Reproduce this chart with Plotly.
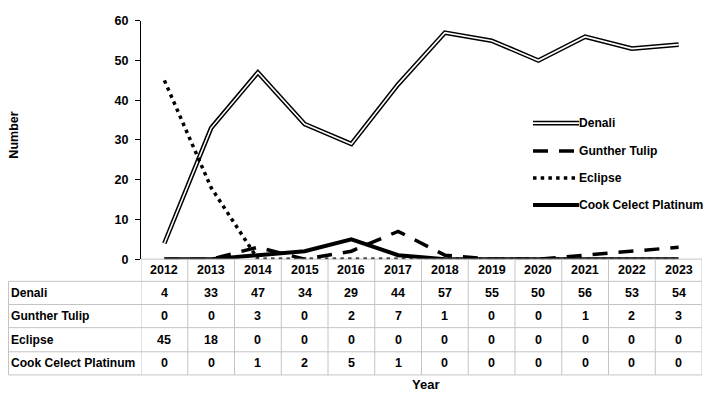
import plotly.graph_objects as go

years = ["2012", "2013", "2014", "2015", "2016", "2017", "2018", "2019", "2020", "2021", "2022", "2023"]
series_names = ["Denali", "Gunther Tulip", "Eclipse", "Cook Celect Platinum"]
denali = [4, 33, 47, 34, 29, 44, 57, 55, 50, 56, 53, 54]
gunther_tulip = [0, 0, 3, 0, 2, 7, 1, 0, 0, 1, 2, 3]
eclipse = [45, 18, 0, 0, 0, 0, 0, 0, 0, 0, 0, 0]
cook_celect_platinum = [0, 0, 1, 2, 5, 1, 0, 0, 0, 0, 0, 0]
y_ticks = [0, 10, 20, 30, 40, 50, 60]

# The page body has an 8px margin, so the figure starts 8px right and 8px down.
OFF = 8
W, H = 712, 400
FONT = "Liberation Sans"
FS = 12.5
FS_LABEL = 12.1
GRID = "#c4c4c4"

def px(x):
    return (x - OFF) / W

def py(y):
    return (H - (y - OFF)) / H

fig = go.Figure()

# Denali: double line (black outer, white inner)
fig.add_trace(go.Scatter(x=years, y=denali, mode="lines", line=dict(color="black", width=4.6),
                         showlegend=False, hoverinfo="skip"))
fig.add_trace(go.Scatter(x=years, y=denali, mode="lines", line=dict(color="white", width=1.6),
                         showlegend=False, name="Denali"))
fig.add_trace(go.Scatter(x=years, y=gunther_tulip, mode="lines",
                         line=dict(color="black", width=3.5, dash="15px,11px"),
                         showlegend=False, name="Gunther Tulip"))
fig.add_trace(go.Scatter(x=years, y=eclipse, mode="lines",
                         line=dict(color="black", width=3.5, dash="3.5px,4.2px"),
                         showlegend=False, name="Eclipse"))
fig.add_trace(go.Scatter(x=years, y=cook_celect_platinum, mode="lines",
                         line=dict(color="black", width=4),
                         showlegend=False, name="Cook Celect Platinum"))

shapes = []
annotations = []

# ---- Data table under the chart (grid lines + cell texts) ----
n = len(years)
tbl_left = 8.5
row_lines = [261, 284, 308, 332, 357, 381]
row_centers = [296, 320, 344.5, 369]
hdr_center = 272.5
line = dict(color=GRID, width=1)
shapes.append(dict(type="line", xref="x", yref="paper", x0=-0.5, x1=n - 0.5,
                   y0=py(row_lines[0]), y1=py(row_lines[0]), line=line))
for yy in row_lines[1:]:
    shapes.append(dict(type="line", xref="paper", yref="paper", x0=px(tbl_left), x1=px(702),
                       y0=py(yy), y1=py(yy), line=line))
shapes.append(dict(type="line", xref="paper", yref="paper", x0=px(tbl_left), x1=px(tbl_left),
                   y0=py(row_lines[1]), y1=py(row_lines[-1]), line=line))
for k in range(n + 1):
    shapes.append(dict(type="line", xref="x", yref="paper", x0=k - 0.5, x1=k - 0.5,
                       y0=py(row_lines[0]), y1=py(row_lines[-1]), line=line))

cell_font = dict(family=FONT, size=FS, color="black")
label_font = dict(family=FONT, size=FS_LABEL, color="black")
for i, yr in enumerate(years):
    annotations.append(dict(xref="x", yref="paper", x=i, y=py(hdr_center), text="<b>%s</b>" % yr,
                            showarrow=False, xanchor="center", yanchor="middle", font=cell_font))
all_series = [denali, gunther_tulip, eclipse, cook_celect_platinum]
for name, vals, yc in zip(series_names, all_series, row_centers):
    annotations.append(dict(xref="paper", yref="paper", x=px(tbl_left), y=py(yc),
                            text="<b>%s</b>" % name, showarrow=False, xanchor="left",
                            yanchor="middle", font=label_font))
    for i, v in enumerate(vals):
        annotations.append(dict(xref="x", yref="paper", x=i, y=py(yc), text="<b>%d</b>" % v,
                                showarrow=False, xanchor="center", yanchor="middle", font=cell_font))

# ---- Custom legend (double line for Denali) ----
leg_y = [120, 149, 177, 205]
x0, x1 = px(533), px(579)
styles = [
    [dict(color="black", width=4.6), dict(color="white", width=1.6)],
    [dict(color="black", width=3.5, dash="15px,11px")],
    [dict(color="black", width=3.5, dash="3.5px,4.2px")],
    [dict(color="black", width=4)],
]
for name, yy, st in zip(series_names, leg_y, styles):
    for s in st:
        shapes.append(dict(type="line", xref="paper", yref="paper", x0=x0, x1=x1,
                           y0=py(yy), y1=py(yy), line=s))
    annotations.append(dict(xref="paper", yref="paper", x=px(576.5), y=py(yy), text="<b>%s</b>" % name,
                            showarrow=False, xanchor="left", yanchor="middle", font=label_font))

# ---- Axis titles ----
annotations.append(dict(xref="paper", yref="paper", x=px(14), y=py(133), text="<b>Number</b>",
                        textangle=-90, showarrow=False, xanchor="center", yanchor="middle",
                        font=dict(family=FONT, size=FS, color="black")))
annotations.append(dict(xref="paper", yref="paper", x=px(425), y=py(391), text="<b>Year</b>",
                        showarrow=False, xanchor="center", yanchor="middle",
                        font=dict(family=FONT, size=FS + 0.5, color="black")))

fig.update_layout(
    width=W, height=H,
    margin=dict(l=0, r=0, t=0, b=0),
    paper_bgcolor="white", plot_bgcolor="white",
    showlegend=False,
    shapes=shapes,
    annotations=annotations,
    xaxis=dict(domain=[px(141), px(702)], type="category", categoryorder="array", categoryarray=years,
               range=[-0.5, n - 0.5], showticklabels=False, showline=False,
               showgrid=False, zeroline=False, ticks=""),
    yaxis=dict(domain=[py(261), py(14)], range=[0, 60.001], tickvals=y_ticks, showline=True,
               linecolor="black", linewidth=1.3, ticks="outside", ticklen=5, tickcolor="black",
               tickwidth=1.3, showgrid=False, zeroline=False, ticklabelstandoff=4,
               ticklabeloverflow="allow",
               tickfont=dict(family=FONT, size=FS, color="black", weight="bold")),
)

fig.write_html("out.html")
